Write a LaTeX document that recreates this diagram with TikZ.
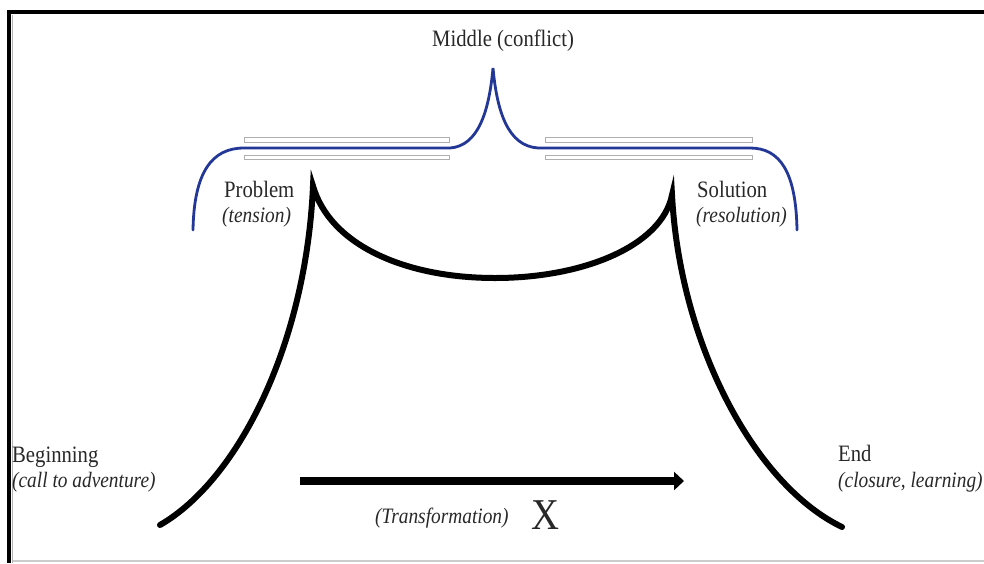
\documentclass[tikz,border=0pt]{standalone}
\usepackage{fontspec}
\setmainfont{Liberation Serif}[FakeStretch=0.88]
\usetikzlibrary{arrows.meta}
\definecolor{arcblue}{RGB}{35,55,150}
\definecolor{txtgray}{RGB}{40,40,40}
\definecolor{rulegray}{RGB}{175,175,175}
\begin{document}
\begin{tikzpicture}[x=1pt,y=-1pt,
  lbl/.style={anchor=base west,inner sep=0pt,text=txtgray,font=\fontsize{23.5}{26}\selectfont},
  ilbl/.style={lbl,font=\fontsize{22}{24}\selectfont\itshape},
  story/.style={line width=6pt,black,line cap=round},
  brace/.style={line width=2.8pt,arcblue,line cap=round},
  guide/.style={draw=rulegray,line width=0.8pt,fill=white}]
\useasboundingbox (0,0) rectangle (984,563);
\fill[white] (0,0) rectangle (984,563);
% frame
\draw[line width=2pt,black!20] (12,561) -- (984,561);
\draw[line width=1pt,black!30] (12,15) -- (12,563);
\draw[line width=4pt,black] (984,12) -- (9,12) -- (9,563);
% guide rectangles
\draw[guide] (244,137) rectangle (449,142);
\draw[guide] (244,155) rectangle (449,159);
\draw[guide] (545,137) rectangle (752,142);
\draw[guide] (545,155) rectangle (752,159);
% blue brace
\coordinate (bl) at (193,230);
\coordinate (bml) at (450,148);
\coordinate (bpk) at (493,68);
\coordinate (bmr) at (538,148);
\coordinate (br) at (797,230);
\draw[brace] (bl) .. controls (194,172) and (212,148) .. (244,148) -- (bml)
  .. controls (478,146) and (489,112) .. (bpk)
  .. controls (497,112) and (508,146) .. (bmr) -- (750,148)
  .. controls (780,148) and (796,172) .. (br);
% black story curve
\coordinate (beg) at (160,525);
\coordinate (prob) at (313,186);
\coordinate (low) at (495,278);
\coordinate (sol) at (672,195);
\coordinate (fin) at (842,527);
\draw[story,line join=miter] (beg) .. controls (238,480) and (306,345) .. (prob)
  .. controls (330,245) and (405,278) .. (low)
  .. controls (585,278) and (662,245) .. (sol)
  .. controls (680,345) and (755,485) .. (fin);
% transformation arrow
\coordinate (as) at (300,481);
\coordinate (ae) at (684,481);
\draw[line width=8pt,-{Triangle[length=10pt,width=18pt]}] (as) -- (ae);
% labels
\node[lbl] (mid) at (432,46) {Middle (conflict)};
\node[lbl] (p1) at (224,197) {Problem};
\node[ilbl] (p2) at (222,222) {(tension)};
\node[lbl] (s1) at (697,197) {Solution};
\node[ilbl] (s2) at (696,222) {(resolution)};
\node[lbl] (b1) at (12,462) {Beginning};
\node[ilbl] (b2) at (12,487) {(call to adventure)};
\node[lbl] (e1) at (838,461) {End};
\node[ilbl] (e2) at (838,487) {(closure, learning)};
\node[ilbl] (tr) at (375,523) {(Transformation)};
\node[lbl,font=\fontsize{44}{48}\selectfont] (xx) at (531,529) {X};
\end{tikzpicture}
\end{document}
